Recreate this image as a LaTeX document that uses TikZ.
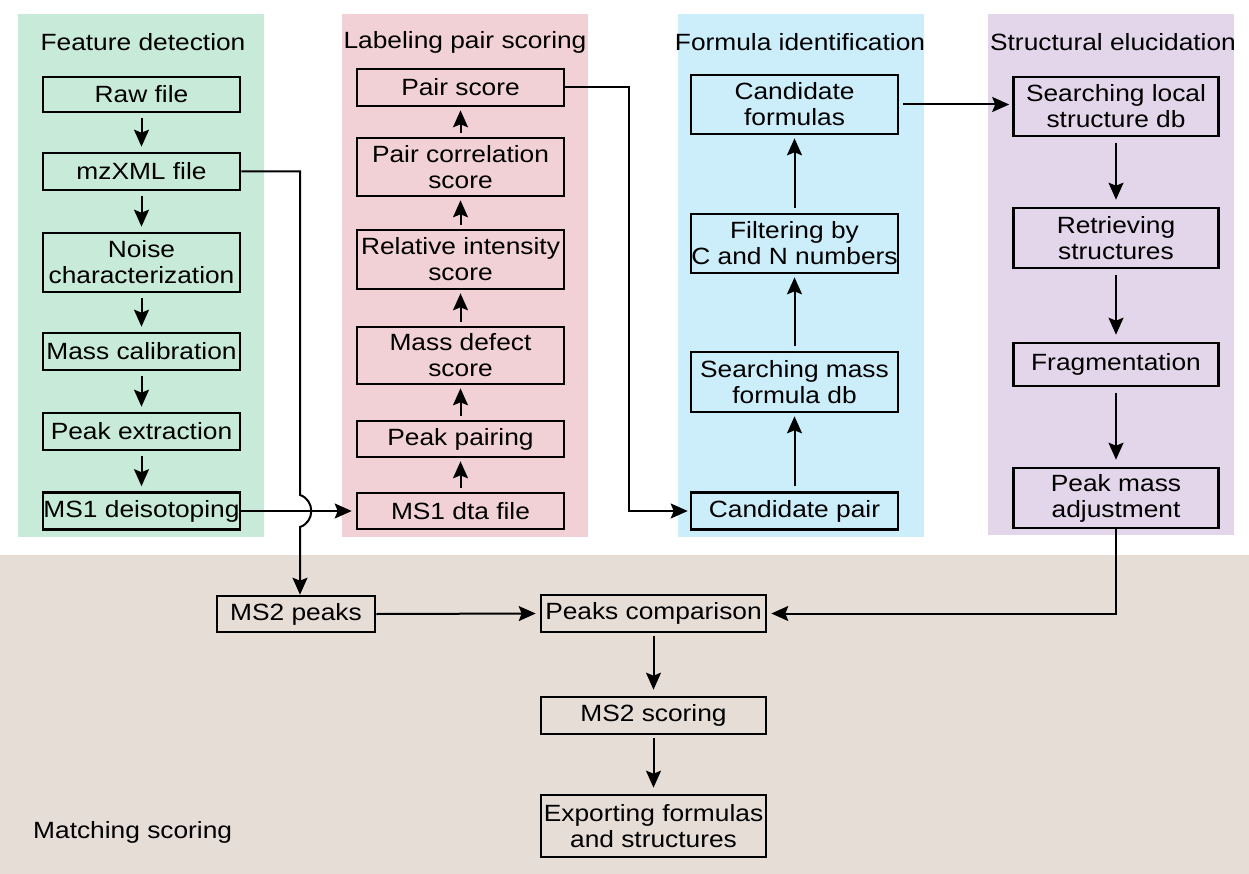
\documentclass[tikz,border=0pt]{standalone}
\usepackage{fontspec}
\setmainfont[FakeStretch=1.12]{Liberation Sans}
\usetikzlibrary{arrows.meta,calc}
\definecolor{pgreen}{HTML}{C8EBD9}
\definecolor{ppink}{HTML}{F1D1D6}
\definecolor{pblue}{HTML}{CCEDFA}
\definecolor{ppurple}{HTML}{E4D6EA}
\definecolor{pbeige}{HTML}{E6DDD6}
\begin{document}
\begin{tikzpicture}[x=1pt,y=-1pt,
  box/.style={draw=black, line width=2.6pt, inner sep=0pt, align=center, font=\fontsize{23.5}{26}\selectfont},
  ttl/.style={font=\fontsize{23.5}{26}\selectfont, inner sep=0pt},
  conn/.style={line width=2pt, -{Stealth[length=17pt,width=15pt,inset=3pt]}},
  gbox/.style={box, minimum width=197pt},
  pbox/.style={box, minimum width=207pt},
  bbox/.style={box, minimum width=207pt},
  ubox/.style={box, minimum width=205pt},
  ebox/.style={box, minimum width=225pt}
]
\useasboundingbox (0,0) rectangle (1249,874);
% panels
\fill[pgreen] (18,14) rectangle (264,537);
\fill[ppink] (342,14) rectangle (588,537);
\fill[pblue] (678,14) rectangle (924,537);
\fill[ppurple] (988,14) rectangle (1234,535);
\fill[pbeige] (0,555) rectangle (1249,874);
% titles
\node[ttl] (t1) at (143,42) {Feature detection};
\node[ttl] (t2) at (465,42) {Labeling pair scoring};
\node[ttl] (t3) at (800,42) {Formula identification};
\node[ttl] (t4) at (1113,42) {Structural elucidation};
\node[ttl, anchor=west] (t5) at (33,832) {Matching scoring};
% feature detection
\node[gbox, minimum height=35pt] (raw) at (141.5,94.5) {Raw file};
\node[gbox, minimum height=37pt] (mzxml) at (141.5,171.5) {mzXML file};
\node[gbox, minimum height=59pt] (noise) at (141.5,262.5) {Noise\\characterization};
\node[gbox, minimum height=37pt] (masscal) at (141.5,351.5) {Mass calibration};
\node[gbox, minimum height=37pt] (peakext) at (141.5,431.5) {Peak extraction};
\node[gbox, minimum height=37pt] (deiso) at (141.5,511) {MS1 deisotoping};
% labeling pair scoring
\node[pbox, minimum height=37pt] (pairscore) at (460.5,87.5) {Pair score};
\node[pbox, minimum height=58pt] (paircorr) at (460.5,167) {Pair correlation\\score};
\node[pbox, minimum height=59pt] (relint) at (460.5,259.5) {Relative intensity\\score};
\node[pbox, minimum height=57pt] (massdef) at (460.5,355.5) {Mass defect\\score};
\node[pbox, minimum height=36pt] (peakpair) at (460.5,439) {Peak pairing};
\node[pbox, minimum height=36pt] (dta) at (460.5,511) {MS1 dta file};
% formula identification
\node[bbox, minimum height=59pt] (candform) at (794.5,104.5) {Candidate\\formulas};
\node[bbox, minimum height=59pt] (filter) at (794.5,243.5) {Filtering by\\C and N numbers};
\node[bbox, minimum height=60pt] (searchmass) at (794.5,382) {Searching mass\\formula db};
\node[bbox, minimum height=37pt] (candpair) at (794.5,511) {Candidate pair};
% structural elucidation
\node[ubox, minimum height=59pt] (searchlocal) at (1116,106.5) {Searching local\\structure db};
\node[ubox, minimum height=60pt] (retrieve) at (1116,238) {Retrieving\\structures};
\node[ubox, minimum height=43pt] (frag) at (1116,364.5) {Fragmentation};
\node[ubox, minimum height=60pt] (peakmass) at (1116,498) {Peak mass\\adjustment};
% matching scoring
\node[box, minimum width=158pt, minimum height=36pt] (ms2peaks) at (296,614) {MS2 peaks};
\node[ebox, minimum height=37pt] (peakscomp) at (653.5,613.5) {Peaks comparison};
\node[ebox, minimum height=37pt] (ms2score) at (653.5,715.5) {MS2 scoring};
\node[ebox, minimum height=62pt] (export) at (653.5,826) {Exporting formulas\\and structures};
% green arrows
\foreach \a/\b in {raw/mzxml, mzxml/noise, noise/masscal, masscal/peakext, peakext/deiso}
  \draw[conn, shorten <=5pt, shorten >=5pt] (\a.south) -- (\b.north);
% pink arrows
\foreach \a/\b in {dta/peakpair, peakpair/massdef, massdef/relint, relint/paircorr, paircorr/pairscore}
  \draw[conn, shorten <=4pt, shorten >=3pt] (\a.north) -- (\b.south);
% blue arrows
\foreach \a/\b in {candpair/searchmass, searchmass/filter, filter/candform}
  \draw[conn, shorten <=5pt, shorten >=3pt] (\a.north) -- (\b.south);
% purple arrows
\foreach \a/\b in {searchlocal/retrieve, retrieve/frag, frag/peakmass}
  \draw[conn, shorten <=6pt, shorten >=7pt] (\a.south) -- (\b.north);
% beige arrows
\draw[conn, shorten <=3pt, shorten >=6pt] (peakscomp.south) -- (ms2score.north);
\draw[conn, shorten <=3pt, shorten >=6pt] (ms2score.south) -- (export.north);
\draw[conn, shorten >=4pt] (ms2peaks.east) -- (peakscomp.west);
\draw[conn, shorten >=4pt] (peakmass.south) |- (peakscomp.east);
% cross connections
\draw[conn, shorten >=4pt] (deiso.east) -- (dta.west);
\draw[conn, shorten <=4pt, shorten >=3pt] (candform.east) -- (candform.east -| searchlocal.west);
\draw[conn, shorten >=2pt] (pairscore.east) -- ++(64,0) |- (candpair.west);
\coordinate (vx) at (300,0);
\coordinate (hopa) at (300,495);
\coordinate (hopb) at (300,527);
\draw[conn] (mzxml.east) -- (mzxml.east -| vx) -- (hopa) .. controls (315,500) and (315,522) .. (hopb) -- (vx |- ms2peaks.north);
\end{tikzpicture}
\end{document}
